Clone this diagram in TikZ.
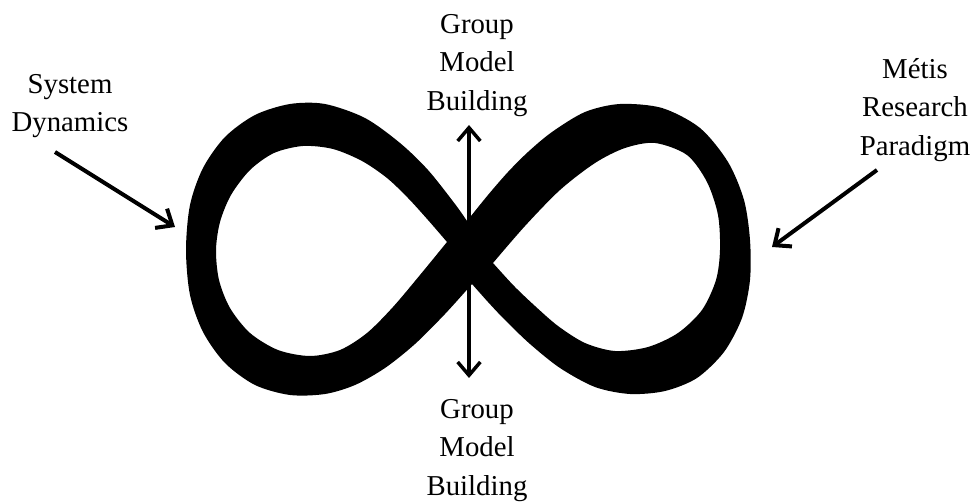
\documentclass[tikz,border=0pt]{standalone}
\usepackage{fontspec}
\setmainfont{Liberation Serif}
\usetikzlibrary{arrows.meta}

\tikzset{
  lbl/.style={align=center, inner sep=0pt, anchor=north,
    font=\fontsize{21.6}{28.9}\selectfont},
  pointer/.style={line width=3pt, -{Straight Barb[length=10pt,width=17pt]}},
  updown/.style={line width=2.6pt, {Straight Barb[length=10pt,width=17pt]}-{Straight Barb[length=10pt,width=17pt]}}
}

\begin{document}
\begin{tikzpicture}[x=0.75pt,y=-0.75pt]
    \useasboundingbox (0,0) rectangle (975,502);

    % the infinity band
    \fill[black, even odd rule]
      plot[smooth] coordinates {(467,221) (455,204) (428,170) (400,143) (365,118) (325,104) (290,104) (255,115) (225,137) (203,168) (190,205) (186,250) (190,295) (203,332) (225,363) (255,385) (290,395) (325,394) (355,385) (385,368) (415,344) (445,314) (472,284)}
      -- plot[smooth] coordinates {(472,284) (488,302) (505,320) (530,344) (560,368) (595,387) (630,394) (665,391) (697,378) (724,352) (742,318) (750,280) (750,240) (744,200) (728,162) (700,128) (662,108) (620,104) (585,112) (552,132) (528,152) (508,172) (488,195) (467,221)} -- cycle
      plot[smooth] coordinates {(447,242) (428,220) (408,198) (387,178) (362,161) (333,149) (303,146) (274,153) (250,170) (231,195) (220,222) (216,250) (219,280) (230,308) (250,333) (278,350) (310,356) (340,350) (367,333) (393,307) (420,275) (447,242)} -- cycle
      plot[smooth] coordinates {(493,263) (525,226) (560,190) (595,163) (625,148) (655,143) (687,155) (707,182) (718,215) (720,250) (716,280) (702,310) (678,333) (648,347) (615,351) (585,343) (558,326) (535,306) (514,286) (493,263)} -- cycle;

    \node[lbl] (gmbtop) at (477,14) {Group\\Model\\Building};
    \node[lbl] (gmbbot) at (477,399) {Group\\Model\\Building};
    \node[lbl] (sysdyn) at (70,74) {System\\Dynamics};
    \node[lbl] (metis) at (915,58) {Métis\\Research\\Paradigm};

    \coordinate (uptip) at (469,125);
    \coordinate (dntip) at (469,378);
    \coordinate (sdtail) at (55,152);
    \coordinate (sdtip) at (175,227);
    \coordinate (mrtail) at (877,170);
    \coordinate (mrtip) at (772,247);

    \draw[updown] (dntip) -- (uptip);
    \draw[pointer] (sdtail) -- (sdtip);
    \draw[pointer] (mrtail) -- (mrtip);

\end{tikzpicture}
\end{document}
